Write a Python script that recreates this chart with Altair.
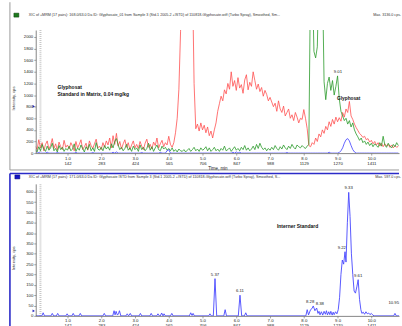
import json
import altair as alt
import numpy as np
import pandas as pd

# ---------------- data ----------------
STEP = 0.05  # sampling interval of the traces, min

# XIC 168/63 (glyphosate, quantifier) - red
red_vals = [
    120, 60, 230, 90, 180, 40, 150, 210, 70, 130, 250, 80, 160, 50, 190, 110, 60, 220, 100, 140,
    70, 180, 120, 40, 200, 90, 150, 230, 60, 110, 170, 50, 210, 130, 80, 160, 240, 90, 120, 60,
    180, 100, 210, 140, 260, 90, 300, 150, 340, 120, 200, 70, 160, 230, 100, 180, 60, 140, 210, 90,
    150, 80, 200, 120, 60, 170, 240, 100, 150, 70, 190, 130, 260, 90, 160, 220, 110, 180, 140, 290,
    150, 100, 180, 350, 600, 1100, 2100, 3136, 3136, 3136, 3136, 3136, 3136, 3136, 1200, 420, 500, 380, 520, 400,
    480, 350, 450, 300, 380, 260, 400, 520, 720, 850, 980, 900, 1090, 1020, 1200, 1100, 1400, 1150, 1250, 1080,
    1300, 1120, 1180, 1030, 1260, 1350, 1090, 1220, 1150, 1400, 1250, 1100, 1190, 1060, 1130, 980, 1080, 1010, 900, 960,
    880, 800, 860, 720, 900, 760, 700, 810, 640, 700, 760, 600, 660, 560, 700, 620, 520, 600, 580, 750,
    600, 420, 130, 110, 180, 150, 260, 200, 330, 280, 400, 340, 460, 400, 540, 460, 580, 500, 620, 540,
    610, 550, 700, 620, 760, 700, 890, 640, 580, 500, 440, 390, 340, 310, 270, 290, 230, 250, 190, 220,
    160, 200, 140, 180, 120, 170, 110, 160, 120, 150, 100, 140, 90, 130, 100, 120,
]

# XIC 168/81 (glyphosate, qualifier) - green
green_vals = [
    60, 20, 110, 40, 150, 70, 30, 120, 50, 90, 170, 40, 80, 20, 130, 60, 100, 30, 80, 50,
    120, 40, 70, 160, 30, 90, 50, 140, 80, 20, 110, 60, 150, 40, 90, 30, 180, 70, 50, 100,
    40, 130, 70, 110, 50, 160, 90, 200, 250, 140, 60, 100, 40, 80, 150, 50, 90, 30, 120, 60,
    90, 30, 140, 60, 100, 40, 80, 170, 50, 110, 30, 90, 140, 60, 40, 120, 70, 100, 50, 80,
    40, 90, 30, 60, 20, 70, 40, 30, 60, 20, 50, 80, 30, 60, 100, 40, 70, 30, 90, 50,
    70, 110, 40, 90, 30, 60, 100, 40, 70, 30, 80, 50, 120, 40, 60, 90, 30, 70, 110, 50,
    80, 40, 100, 60, 130, 50, 90, 40, 70, 120, 60, 150, 80, 170, 100, 60, 90, 40, 80, 50,
    100, 60, 130, 80, 50, 110, 70, 140, 90, 60, 120, 80, 150, 100, 70, 140, 110, 90, 130, 100,
    80, 120, 150, 3136, 3136, 1750, 1640, 1830, 3136, 3136, 3136, 1230, 920, 1200, 1310, 1080, 1250, 1000, 1150, 1330,
    940, 720, 640, 560, 600, 500, 560, 450, 520, 400, 330, 280, 220, 260, 180, 210, 150, 190, 130, 170,
    110, 160, 130, 100, 180, 120, 290, 140, 100, 170, 120, 90, 150, 110, 180, 130,
]

# XIC 171/63 trace shown in the upper pane - blue
blue_vals = [
    0, 0, 10, 0, 0, 0, 0, 15, 0, 0, 0, 0, 0, 10, 0, 0, 0, 0, 0, 0,
    0, 0, 0, 0, 12, 0, 0, 0, 0, 0, 0, 0, 0, 0, 10, 0, 0, 0, 0, 0,
    0, 0, 0, 0, 0, 0, 15, 0, 20, 0, 0, 0, 0, 0, 0, 0, 0, 0, 0, 0,
    0, 0, 0, 10, 0, 0, 0, 0, 0, 0, 0, 0, 0, 0, 12, 0, 0, 0, 40, 60,
    0, 0, 0, 0, 0, 0, 0, 0, 0, 0, 0, 0, 0, 0, 0, 0, 0, 0, 0, 0,
    0, 0, 0, 0, 0, 0, 0, 0, 0, 0, 0, 0, 0, 0, 0, 0, 0, 15, 0, 20,
    0, 15, 0, 0, 0, 0, 0, 0, 0, 0, 0, 0, 0, 0, 0, 0, 0, 0, 0, 0,
    0, 0, 0, 0, 0, 0, 0, 0, 0, 10, 0, 0, 0, 0, 0, 0, 0, 0, 0, 0,
    0, 0, 0, 0, 0, 0, 0, 0, 0, 0, 0, 0, 0, 0, 15, 0, 0, 0, 0, 0,
    10, 40, 90, 170, 230, 250, 210, 130, 60, 20, 0, 0, 0, 0, 0, 0, 0, 0, 0, 0,
    0, 0, 0, 0, 0, 0, 0, 0, 0, 0, 0, 0, 0, 0, 0, 0,
]

# Internal standard trace (lower pane)
istd_time = [
    0.05, 0.24, 0.28, 0.32, 0.51, 0.55, 0.59, 0.67, 0.71, 0.75, 0.95, 0.99, 1.03,
    1.13, 1.17, 1.21, 1.34, 1.38, 1.42, 2.05, 2.09, 2.13,
    2.34, 2.38, 2.41, 2.44, 2.48, 2.51, 2.54, 2.58, 2.73, 2.77, 2.81, 2.86, 2.90,
    3.12, 3.16, 3.20, 3.44, 3.48, 3.52, 3.64, 3.68, 3.72, 3.75, 3.79, 3.83, 3.86, 3.90,
    4.05, 4.09, 4.13, 4.61, 4.65, 4.69, 4.72, 4.76, 5.18, 5.22, 5.26,
    5.32, 5.37, 5.42, 5.63, 5.67, 5.71, 6.06, 6.11, 6.16, 6.24, 6.28, 6.32,
    8.06, 8.10, 8.14, 8.20, 8.24, 8.28, 8.33, 8.38, 8.42, 8.45, 8.48, 8.52, 8.56,
    8.60, 8.64, 8.67, 8.70, 8.74, 8.77, 8.80, 8.84, 8.87, 8.90, 8.94, 8.98,
    9.02, 9.06, 9.10, 9.14, 9.18, 9.22, 9.25, 9.29, 9.33, 9.37, 9.41, 9.45, 9.49,
    9.53, 9.57, 9.61, 9.65, 9.69, 9.72, 9.76, 9.80, 9.84, 9.88, 9.92, 9.96, 10.00,
    10.04, 10.08, 10.66, 10.70, 10.74, 10.91, 10.95,
]
istd_value = [
    0, 0, 15, 0, 0, 12, 0, 0, 12, 0, 0, 10, 0,
    0, 12, 0, 0, 12, 0, 0, 12, 0,
    0, 25, 5, 22, 4, 10, 25, 0, 0, 10, 0, 12, 0,
    0, 12, 0, 0, 12, 0, 0, 10, 0, 0, 14, 0, 10, 0,
    0, 12, 0, 0, 15, 2, 12, 0, 0, 10, 0,
    0, 180, 0, 0, 30, 0, 0, 100, 0, 0, 15, 0,
    0, 30, 5, 30, 35, 48, 25, 38, 12, 22, 5, 20, 4,
    22, 8, 25, 5, 20, 6, 22, 4, 18, 6, 20, 10,
    30, 90, 200, 270, 250, 310, 260, 450, 597, 480, 300, 200, 120,
    110, 140, 175, 80, 30, 12, 18, 8, 20, 10, 14, 6, 12,
    5, 0, 0, 12, 0, 0, 45,
]

# axis ticks
time_ticks = [1, 2, 3, 4, 5, 6, 7, 8, 9, 10]
cycle_labels = ["142", "283", "424", "565", "706", "847", "988", "1129", "1270", "1411"]
top_y_ticks = [0, 200, 400, 600, 800, 1000, 1200, 1400, 1600, 1800, 2000]
bottom_y_ticks = [0, 50, 100, 150, 200, 250, 300, 350, 400, 450, 500, 550, 600]

# peak annotations (retention times)
istd_peaks_center = [5.37, 6.11, 9.33, 9.61]
istd_peaks_center_v = [180, 100, 597, 175]
istd_peaks_right = [8.28, 9.22]
istd_peaks_right_v = [48, 310]
istd_peaks_left = [8.38]
istd_peaks_left_v = [38]

header_top = ("XIC of +MRM (17 pairs): 168.0/63.0 Da ID: Glyphosate_01 from Sample 3 (Std.1 2005-2 +ISTD) "
              "of 110818-Glyphosate.wiff (Turbo Spray), Smoothed, Sm...")
header_bottom = ("XIC of +MRM (17 pairs): 171.0/63.0 Da ID: Glyphosate ISTD from Sample 3 (Std.1 2005-2 +ISTD) "
                 "of 110818-Glyphosate.wiff (Turbo Spray), Smoothed, S...")

# ---------------- frames ----------------
W, H_TOP, H_BOT = 366, 124, 133
FONT = "Liberation Sans"

t_grid = np.round(np.arange(1, len(red_vals) + 1) * STEP, 2)
df_red = pd.DataFrame({"t": t_grid, "v": red_vals})
df_green = pd.DataFrame({"t": t_grid, "v": green_vals})
df_blue = pd.DataFrame({"t": t_grid, "v": blue_vals})
df_istd = pd.DataFrame({"t": istd_time, "v": istd_value})

label_expr = ("[format(datum.value, '.1f'), " + json.dumps(cycle_labels)
              + "[round(datum.value) - 1]]")

x_scale = alt.Scale(domain=[0.06, 10.82], nice=False, zero=False)


def x_axis(title):
    kw = dict(values=time_ticks, labelExpr=label_expr, grid=False, tickSize=2,
              labelFontSize=4.3, labelLineHeight=5, labelPadding=1, labelFlush=False,
              labelOverlap=False, domainColor="#666", tickColor="#666", labelColor="#222",
              domainWidth=0.8, tickWidth=0.6, labelFont=FONT, zindex=1)
    if title:
        kw.update(title=title, titleFontSize=4.5, titleFontWeight="normal",
                  titlePadding=0, titleColor="#222", titleFont=FONT)
    else:
        kw.update(title=None)
    return alt.Axis(**kw)


def y_axis(ticks):
    return alt.Axis(values=ticks, title=None, grid=False, tickSize=2, labelFontSize=4.3,
                    labelPadding=1, format="d", domainColor="#666", tickColor="#666",
                    labelColor="#222", domainWidth=0.8, tickWidth=0.6, labelFont=FONT,
                    labelOverlap=False, zindex=1)


def trace(df, color, y_enc, x_enc, width=0.8):
    return alt.Chart(df).mark_line(color=color, strokeWidth=width, clip=True).encode(
        x=x_enc, y=y_enc)


def vrule(x, y1, y2, color, width):
    return alt.Chart(pd.DataFrame({"k": [0]})).mark_rule(color=color, strokeWidth=width).encode(
        x=alt.value(x), y=alt.value(y1), y2=alt.value(y2))


def hrule(y, x1, x2, color, width):
    return alt.Chart(pd.DataFrame({"k": [0]})).mark_rule(color=color, strokeWidth=width).encode(
        y=alt.value(y), x=alt.value(x1), x2=alt.value(x2))


def box(x1, x2, y1, y2, color, stroke=None):
    props = dict(color=color)
    if stroke:
        props.update(stroke=stroke, strokeWidth=0.5)
    return alt.Chart(pd.DataFrame({"k": [0]})).mark_rect(**props).encode(
        x=alt.value(x1), x2=alt.value(x2), y=alt.value(y1), y2=alt.value(y2))


def label(text, x, y, size, align="left", weight="normal", angle=0, color="#222"):
    return alt.Chart(pd.DataFrame({"k": [0]})).mark_text(
        text=text, align=align, baseline="middle", fontSize=size, fontWeight=weight,
        font=FONT, color=color, angle=angle).encode(x=alt.value(x), y=alt.value(y))


# ---------------- upper pane ----------------
xt = alt.X("t:Q", scale=x_scale, axis=x_axis("Time, min"))
yt = alt.Y("v:Q", scale=alt.Scale(domain=[0, 2120], nice=False), axis=y_axis(top_y_ticks))

top = alt.layer(
    # one-pixel white corner marker fixing the page origin
    box(-36, -35, -28, -27, "white"),
    vrule(-26, -28, 141, "#9a9a9a", 1),
    hrule(141, -26, 366, "#9a9a9a", 1),
    alt.Chart(pd.DataFrame({"t": [0.2]})).mark_rule(
        color="#c8c8c8", strokeWidth=2, strokeDash=[1, 1]).encode(x=xt),
    trace(df_red, "#ff4f4f", yt, xt),
    trace(df_green, "#2a9a2a", yt, xt),
    trace(df_blue, "#3c3cff", yt, xt),
    alt.Chart(pd.DataFrame({"k": [0]})).mark_point(
        shape="triangle-right", filled=True, color="#2020c0", size=8, opacity=1).encode(
        x=alt.value(-2), y=alt.value(77)),
    box(-22, -17, -17, -13, "#1d7a1d", "#0b3d0b"),
    label(header_top, -7, -15, 3.7, color="#333"),
    label("Max. 3136.0 cps.", 340, -15, 3.7, color="#333"),
    label("Intensity, cps", -22, 69, 4.2, align="center", angle=270, color="#333"),
    label("Glyphosat", 22, 57, 5, weight="bold", color="#111"),
    label("Standard in Matrix, 0.04 mg/kg", 22, 64, 5, weight="bold", color="#111"),
    alt.Chart(pd.DataFrame({"t": [9.01], "v": [1330], "s": ["9.01"]})).mark_text(
        baseline="bottom", dy=-2, fontSize=4.3, font=FONT, color="#222").encode(
        x=xt, y=yt, text="s:N"),
    alt.Chart(pd.DataFrame({"t": [9.33], "s": ["Glyphosat"]})).mark_text(
        baseline="middle", fontSize=4.8, fontWeight="bold", font=FONT, color="#111").encode(
        x=xt, y=alt.value(69), text="s:N"),
).properties(width=W, height=H_TOP)

# ---------------- lower pane ----------------
ysc_b = alt.Scale(domain=[0, 638], nice=False)
xb = alt.X("t:Q", scale=x_scale, axis=x_axis(None))
yb = alt.Y("v:Q", scale=ysc_b, axis=y_axis(bottom_y_ticks))


def peak_labels(ts, vs, align, dx):
    d = pd.DataFrame({"t": ts, "v": vs, "s": ["%.2f" % t for t in ts]})
    return alt.Chart(d).mark_text(align=align, baseline="bottom", dx=dx, dy=-2, fontSize=4.3,
                                  font=FONT, color="#222").encode(
        x=xb, y=yb, text="s:N")


bottom = alt.layer(
    vrule(-26, -10.5, 150, "#2b2bc8", 1.6),
    hrule(-10.5, -26, 366, "#2b2bc8", 1.6),
    alt.Chart(pd.DataFrame({"t": [0.2]})).mark_rule(
        color="#c8c8c8", strokeWidth=2, strokeDash=[1, 1]).encode(x=xb),
    trace(df_istd, "#4646ff", yb, xb, 0.9),
    alt.Chart(pd.DataFrame({"k": [0]})).mark_point(
        shape="triangle-right", filled=True, color="#2020c0", size=8, opacity=1).encode(
        x=alt.value(-2), y=alt.value(128)),
    box(-21, -16, -9, -5, "#1414c8", "#08086a"),
    label(header_bottom, -7, -7, 3.7, color="#333"),
    label("Max. 597.0 cps.", 342, -7, 3.7, color="#333"),
    label("Intensity, cps", -22, 75, 4.2, align="center", angle=270, color="#333"),
    label("Interner Standard", 243, 42, 5, weight="bold", color="#111"),
    peak_labels(istd_peaks_center, istd_peaks_center_v, "center", 0),
    peak_labels(istd_peaks_right, istd_peaks_right_v, "right", 1),
    peak_labels(istd_peaks_left, istd_peaks_left_v, "left", -1),
    alt.Chart(pd.DataFrame({"v": [45], "s": ["10.95"]})).mark_text(
        align="right", baseline="bottom", dy=-2, fontSize=4.3, font=FONT, color="#222").encode(
        x=alt.value(366), y=yb, text="s:N"),
).properties(width=W, height=H_BOT)

chart = alt.vconcat(top, bottom, spacing=31, bounds="flush").properties(
    padding=0, background="white"
).configure_view(stroke=None)

chart.save("out.html", embed_options={"renderer": "svg", "actions": False})
